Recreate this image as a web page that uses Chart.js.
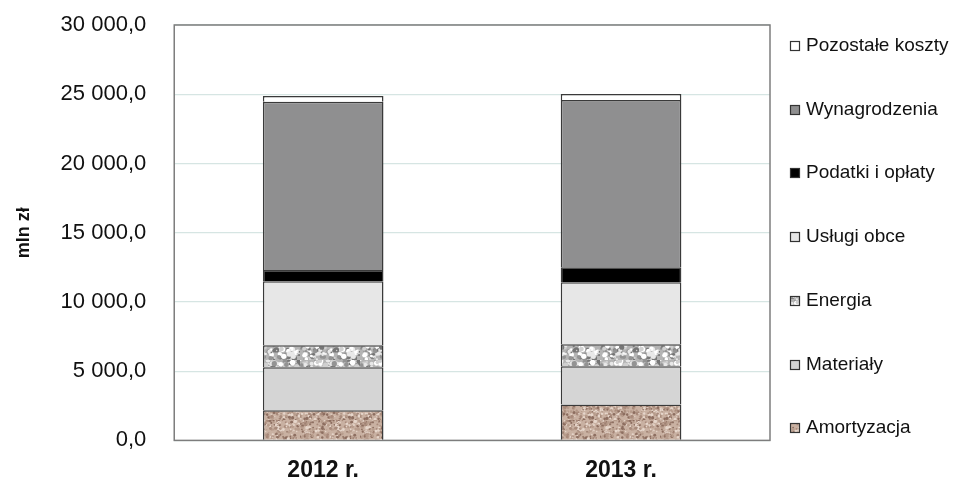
<!DOCTYPE html>
<html>
<head>
<meta charset="utf-8">
<script src="https://cdn.jsdelivr.net/npm/chart.js@4.4.1/dist/chart.umd.min.js"></script>
<style>
html, body { margin: 0; padding: 0; background: #fff; }
#wrap { width: 956px; height: 480px; }
</style>
</head>
<body>
<div id="wrap"><canvas id="myChart"></canvas></div>
<script>
// dane (mln zł)
var years = ['2012 r.', '2013 r.'];
var amortyzacja = [2170, 2600];
var materialy = [3110, 2750];
var energia = [1590, 1590];
var uslugiObce = [4630, 4480];
var podatki = [800, 1090];
var wynagrodzenia = [12150, 12080];
var pozostale = [430, 430];
var yTicks = [0, 5000, 10000, 15000, 20000, 25000, 30000];

function number_format(number, decimals, dec_point, thousands_sep) {
    var s = Number(number).toFixed(decimals).split('.');
    s[0] = s[0].replace(/\B(?=(?:\d{3})+(?!\d))/g, thousands_sep);
    return s.join(dec_point);
}

// simple seeded generator, only for the texture look
function rng(seed) {
    return function() {
        seed = (seed * 16807) % 2147483647;
        return (seed - 1) / 2147483646;
    };
}

function speckle(base, colors, seed, count, maxR) {
    var c = document.createElement('canvas');
    c.width = 60; c.height = 60;
    var g = c.getContext('2d');
    g.fillStyle = base;
    g.fillRect(0, 0, 60, 60);
    var r = rng(seed);
    for (var i = 0; i < count; i++) {
        g.fillStyle = colors[Math.floor(r() * colors.length)];
        var x = r() * 60, y = r() * 60, s = 0.6 + r() * maxR;
        g.beginPath();
        g.arc(x, y, s, 0, Math.PI * 2);
        g.fill();
    }
    return document.getElementById('myChart').getContext('2d').createPattern(c, 'repeat');
}

var amortPattern = speckle('#c9b1a2', ['#8d6e60', '#a88a7b', '#e6d6cb', '#b79c8c'], 7, 700, 1.0);
var energiaPattern = speckle('#b4b4b4', ['#ffffff', '#e8e8e8', '#767676', '#939393', '#d0d0d0'], 13, 420, 2.2);

var lineColor = '#3a3a3a';

var frame = {
    id: 'frame',
    beforeDatasetsDraw: function(chart) {
        var a = chart.chartArea, ctx = chart.ctx;
        ctx.save();
        ctx.strokeStyle = '#7d7d7d';
        ctx.lineWidth = 1.5;
        ctx.strokeRect(a.left, a.top, a.right - a.left, a.bottom - a.top);
        ctx.restore();
    }
};

var sideLegend = {
    id: 'sideLegend',
    afterDraw: function(chart) {
        var a = chart.chartArea, ctx = chart.ctx;
        var ds = chart.data.datasets;
        var first = a.top + 21, last = a.bottom - 12;
        var step = (last - first) / (ds.length - 1);
        ctx.save();
        ctx.font = '19px "Liberation Sans", Arial, sans-serif';
        ctx.textBaseline = 'middle';
        for (var k = 0; k < ds.length; k++) {
            var d = ds[ds.length - 1 - k];
            var y = Math.round(first + k * step);
            var bx = a.right + 20;
            ctx.fillStyle = d.backgroundColor;
            ctx.fillRect(bx, y - 5, 10, 10);
            ctx.strokeStyle = '#333';
            ctx.lineWidth = 1.2;
            ctx.strokeRect(bx + 0.5, y - 4.5, 9, 9);
            ctx.fillStyle = '#111';
            ctx.fillText(d.label, bx + 16, y);
        }
        ctx.restore();
    }
};

function ds(label, data, color) {
    return {
        label: label,
        data: data,
        backgroundColor: color,
        borderColor: lineColor,
        borderWidth: 1.5,
        barPercentage: 0.405,
        categoryPercentage: 1
    };
}

const data = {
    labels: years,
    datasets: [
        ds('Amortyzacja', amortyzacja, amortPattern),
        ds('Materiały', materialy, '#d5d5d5'),
        ds('Energia', energia, energiaPattern),
        ds('Usługi obce', uslugiObce, '#e7e7e7'),
        ds('Podatki i opłaty', podatki, '#000000'),
        ds('Wynagrodzenia', wynagrodzenia, '#8f8f90'),
        ds('Pozostałe koszty', pozostale, '#ffffff')
    ]
};

const config = {
    type: 'bar',
    data: data,
    options: {
        responsive: true,
        maintainAspectRatio: false,
        animation: false,
        layout: { padding: { left: 0, right: 186, top: 25, bottom: -20 } },
        plugins: {
            legend: { display: false },
            tooltip: { enabled: false }
        },
        scales: {
            x: {
                stacked: true,
                grid: { display: false, drawTicks: false },
                border: { display: false },
                ticks: {
                    padding: 16,
                    color: '#111',
                    font: { family: '"Liberation Sans", Arial, sans-serif', size: 23, weight: 'bold' }
                }
            },
            y: {
                stacked: true,
                weight: 1,
                min: 0,
                max: 30000,
                afterBuildTicks: function(axis) {
                    axis.ticks = yTicks.map(function(v) { return { value: v }; });
                },
                grid: { color: '#d6e5e3', lineWidth: 1.2, drawTicks: false },
                border: { display: false },
                ticks: {
                    padding: 4,
                    color: '#111',
                    font: { family: '"Liberation Sans", Arial, sans-serif', size: 22 },
                    callback: function(v) { return number_format(v, 1, ',', ' '); }
                },
                title: {
                    display: true,
                    text: 'mln zł',
                    color: '#111',
                    padding: { top: 13, bottom: 22 },
                    font: { family: '"Liberation Sans", Arial, sans-serif', size: 18, weight: 'bold' }
                }
            },
            // empty spacer between the tick labels and the plot frame
            gap: {
                type: 'linear',
                position: 'left',
                weight: 0,
                grid: { display: false, drawTicks: false },
                border: { display: false },
                ticks: { display: false },
                afterFit: function(s) { s.width = 24; }
            }
        }
    },
    plugins: [frame, sideLegend]
};

const myChart = new Chart(document.getElementById('myChart'), config);
</script>
</body>
</html>
